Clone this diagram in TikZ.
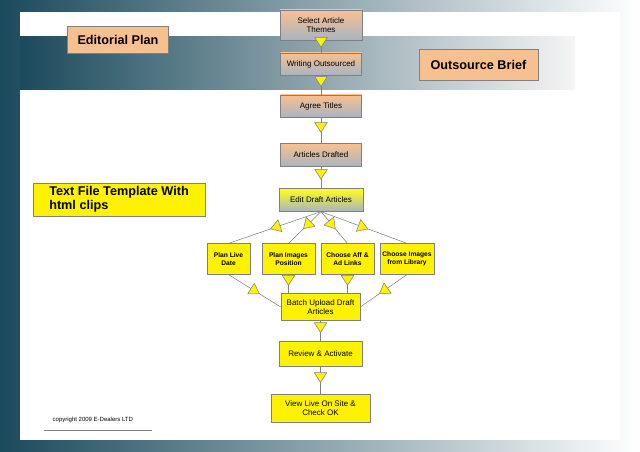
\documentclass[tikz,border=0pt]{standalone}
\usepackage{fontspec}
\setmainfont{Liberation Sans}
\usetikzlibrary{arrows.meta,decorations.markings}
\definecolor{deepteal}{HTML}{1B4A5C}
\definecolor{peach}{HTML}{F9C08F}
\definecolor{steel}{HTML}{A9B4C2}
\tikzset{stage/.style={
  rectangle,draw=gray,
  inner sep=1pt,align=center,font=\fontsize{6}{7}\selectfont,
  top color=peach,bottom color=steel}}
\tikzset{task/.style={
  rectangle,draw=gray,fill=yellow,
  inner sep=1pt,align=center,font=\bfseries\fontsize{5}{6}\selectfont}}
\tikzset{banner/.style={
  rectangle,draw=gray,inner sep=2pt,font=\bfseries\fontsize{9.5}{10.5}\selectfont}}
\tikzset{flow/.style={
  draw=gray,postaction={decorate},
  decoration={markings,mark=at position #1 with
    {\arrow{Triangle[fill=yellow,length=8pt,width=10pt]}}}},
  flow/.default=0.6}
\begin{document}
\begin{tikzpicture}[x={(0.75pt,0cm)},y={(0cm,-0.75pt)}]
  \useasboundingbox (0,0) rectangle (640,452);
  \shade[left color=deepteal,right color=white] (0,0) rectangle (640,452);
  \fill[white] (20,12) rectangle (620,440);
  \shade[left color=deepteal,right color=white!92!gray] (20,37) rectangle (575,90);
  % process column
  \foreach \n/\p/\w/\h/\l in {
      themes/{(321,25)}/82/30/{Select Article\\Themes},
      outsourced/{(321,64)}/81/22/{Writing Outsourced},
      titles/{(321,106)}/81/22/{Agree Titles},
      drafted/{(321,155)}/81/23/{Articles Drafted}}
    \node[stage,minimum width=\w*0.75pt,minimum height=\h*0.75pt] (\n) at \p {\l};
  \node[stage,top color=yellow!90!white,bottom color=steel,
    minimum width=63pt,minimum height=17pt] (edit) at (321,200) {Edit Draft Articles};
  \foreach \n/\p/\w/\l in {
      live/{(228.5,259)}/43/{Plan Live\\Date},
      position/{(288.5,259)}/53/{Plan Images\\Position},
      links/{(347.5,259)}/53/{Choose Aff \&\\Ad Links},
      library/{(407,259)}/54/{Choose Images\\from Library}}
    \node[task,minimum width=\w*0.75pt,minimum height=23pt] (\n) at \p {\l};
  \foreach \n/\p/\w/\h/\l in {
      batch/{(320.5,307)}/79/27/{Batch Upload Draft\\Articles},
      review/{(320.5,354)}/83/25/{Review \& Activate},
      view/{(320.5,408)}/99/28/{View Live On Site \&\\Check OK}}
    \node[task,font=\fontsize{6}{7}\selectfont,
      minimum width=\w*0.75pt,minimum height=\h*0.75pt] (\n) at \p {\l};
  % labels
  \node[banner,fill=peach,minimum width=76pt,minimum height=20pt] (plan) at (118,40) {Editorial Plan};
  \node[banner,fill=peach,minimum width=89pt,minimum height=23pt] (brief) at (478.5,64.5) {Outsource Brief};
  \node[banner,fill=yellow,align=left,minimum width=129pt,minimum height=25pt] (template) at (119,199.5)
    {Text File Template With\\html clips};
  \node[font=\fontsize{4.5}{5}\selectfont,anchor=west] (copy) at (48,420) {copyright 2009 E-Dealers LTD};
  \draw[gray] (44,430) -- (152,430);
  % connectors
  \foreach \m/\n in {themes/outsourced,outsourced/titles,titles/drafted,drafted/edit,
      batch/review,review/view}
    \draw[flow] (\m) -- (\n);
  \foreach \n in {live,position,links,library}
    \draw[flow=0.55] (edit.south) -- (\n.north);
  \draw[flow] (live.south) -- (batch.west);
  \draw[flow] (position.south) -- (position.south |- batch.north);
  \draw[flow] (links.south) -- (links.south |- batch.north);
  \draw[flow] (library.south) -- (batch.east);
\end{tikzpicture}
\end{document}
